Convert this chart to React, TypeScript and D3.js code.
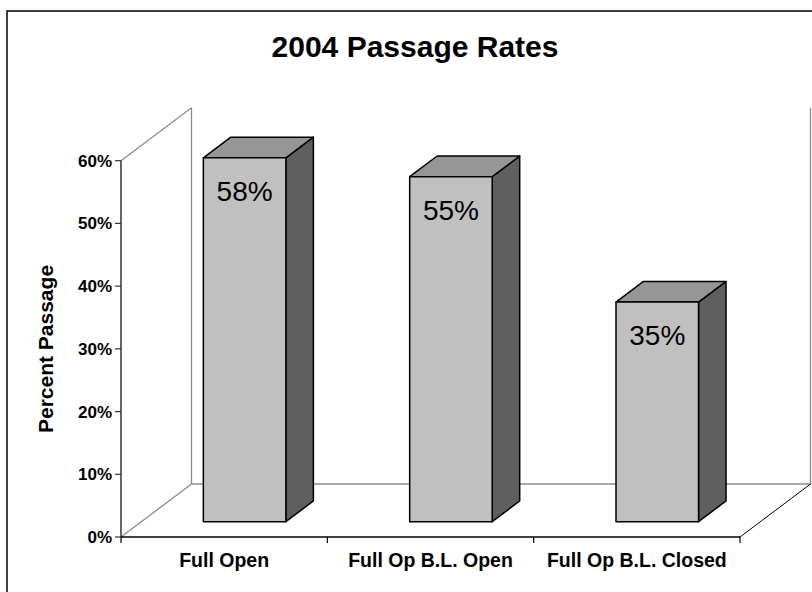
import React from "react";
import * as d3 from "d3";

const title = "2004 Passage Rates";
const yLabel = "Percent Passage";
const categories = ["Full Open", "Full Op B.L. Open", "Full Op B.L. Closed"];
const values = [58, 55, 35];
const yTicks = [0, 10, 20, 30, 40, 50, 60];

const FONT = "'Liberation Sans', Arial, Helvetica, sans-serif";

export default function App() {
  const W = 812;
  const H = 592;
  const x = d3.scaleBand<string>().domain(categories).range([121, 740]);
  const y = d3.scaleLinear().domain([0, 60]).range([537, 160.7]);
  const depth = { dx: 70.5, dy: -53 };
  const fFront = 0.29;
  const fBack = 0.68;
  const bw = x.bandwidth() * 0.4;
  const x0 = x.range()[0];
  const x1 = x.range()[1];
  const yb = y(0);
  const yt = y(60);
  const fmt = (v: number) => `${v}%`;

  return (
    <svg
      width={W}
      height={H}
      style={{ position: "absolute", left: 0, top: 0, background: "#fff" }}
      fontFamily={FONT}
    >
      <rect x={0} y={0} width={W} height={H} fill="#fff" />
      {/* outer border */}
      <rect x={7} y={11} width={806} height={600} fill="none" stroke="#000" strokeWidth={1.5} />

      {/* title */}
      <text x={415} y={57} textAnchor="middle" fontSize={30} fontWeight="bold" fill="#000">
        {title}
      </text>

      {/* back walls / floor */}
      <g stroke="#8c8c8c" strokeWidth={1.3} fill="none">
        <line x1={x0} y1={yt} x2={x0 + depth.dx} y2={yt + depth.dy} />
        <line x1={x0 + depth.dx} y1={yt + depth.dy} x2={x0 + depth.dx} y2={yb + depth.dy} />
        <line x1={x0} y1={yb} x2={x0 + depth.dx} y2={yb + depth.dy} />
        <line x1={x0 + depth.dx} y1={yb + depth.dy} x2={x1 + depth.dx} y2={yb + depth.dy} />
        <line x1={x1 + depth.dx} y1={yt + depth.dy} x2={x1 + depth.dx} y2={yb + depth.dy} />
      </g>
      <line x1={x1} y1={yb} x2={x1 + depth.dx} y2={yb + depth.dy} stroke="#000" strokeWidth={1} />

      {/* bars */}
      {categories.map((c, i) => {
        const v = values[i];
        const cx = (x(c) as number) + x.bandwidth() / 2;
        const fx = cx - bw / 2 + depth.dx * fFront;
        const fy0 = yb + depth.dy * fFront;
        const fyT = y(v) + depth.dy * fFront;
        const ddx = depth.dx * (fBack - fFront);
        const ddy = depth.dy * (fBack - fFront);
        const side = `M${fx + bw},${fyT} L${fx + bw + ddx},${fyT + ddy} L${fx + bw + ddx},${fy0 + ddy} L${fx + bw},${fy0} Z`;
        const top = `M${fx},${fyT} L${fx + ddx},${fyT + ddy} L${fx + bw + ddx},${fyT + ddy} L${fx + bw},${fyT} Z`;
        return (
          <g key={c} stroke="#000" strokeWidth={1.5} strokeLinejoin="round">
            <path d={side} fill="#5f5f5f" />
            <path d={top} fill="#969696" />
            <rect x={fx} y={fyT} width={bw} height={fy0 - fyT} fill="#c0c0c0" />
            <text
              x={fx + bw / 2}
              y={fyT + 43}
              textAnchor="middle"
              fontSize={28}
              stroke="none"
              fill="#000"
            >
              {fmt(v)}
            </text>
          </g>
        );
      })}

      {/* y axis */}
      <line x1={x0} y1={yt} x2={x0} y2={yb} stroke="#333" strokeWidth={1.5} />
      {yTicks.map((t) => (
        <g key={t}>
          <line x1={x0 - 6} y1={y(t)} x2={x0} y2={y(t)} stroke="#333" strokeWidth={1.2} />
          <text x={x0 - 9} y={y(t) + 6} textAnchor="end" fontSize={17} fontWeight="bold" fill="#000">
            {fmt(t)}
          </text>
        </g>
      ))}

      {/* x axis */}
      <line x1={x0} y1={yb} x2={x1} y2={yb} stroke="#000" strokeWidth={1.5} />
      {[...categories.map((c) => x(c) as number), x1].map((px, i) => (
        <line key={i} x1={px} y1={yb} x2={px} y2={yb + 6} stroke="#000" strokeWidth={1.2} />
      ))}
      {categories.map((c) => (
        <text
          key={c}
          x={(x(c) as number) + x.bandwidth() / 2}
          y={566.5}
          textAnchor="middle"
          fontSize={19.5}
          fontWeight="bold"
          fill="#000"
        >
          {c}
        </text>
      ))}

      {/* y label */}
      <text
        transform="translate(53,349) rotate(-90)"
        textAnchor="middle"
        fontSize={21}
        fontWeight="bold"
        fill="#000"
      >
        {yLabel}
      </text>
    </svg>
  );
}
